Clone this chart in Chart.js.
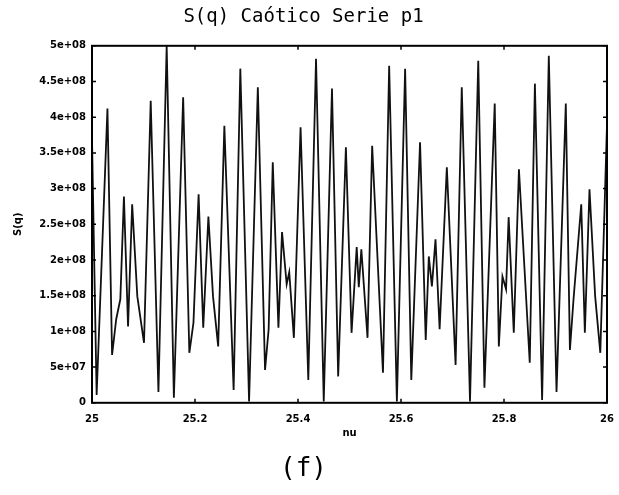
<!DOCTYPE html>
<html>
<head>
<meta charset="utf-8">
<script src="https://cdn.jsdelivr.net/npm/chart.js@4/dist/chart.umd.min.js"></script>
<style>
  html, body { margin: 0; padding: 0; background: #fff; }
  #wrap { width: 619px; height: 495px; position: relative; }
</style>
</head>
<body>
<div id="wrap"><canvas id="chart"></canvas></div>
<script>
// series (q, S(q))
const qValues = [
  25.000, 25.009, 25.030, 25.039, 25.047, 25.055, 25.062, 25.070, 25.078, 25.088,
  25.101, 25.114, 25.129, 25.145, 25.159, 25.177, 25.189, 25.197, 25.207, 25.216,
  25.226, 25.235, 25.245, 25.257, 25.275, 25.288, 25.305, 25.322, 25.336, 25.343,
  25.351, 25.362, 25.369, 25.378, 25.383, 25.392, 25.405, 25.420, 25.435, 25.450,
  25.466, 25.478, 25.493, 25.504, 25.514, 25.518, 25.523, 25.535, 25.544, 25.565,
  25.577, 25.592, 25.608, 25.620, 25.637, 25.648, 25.654, 25.660, 25.667, 25.675,
  25.689, 25.706, 25.718, 25.734, 25.750, 25.762, 25.782, 25.790, 25.797, 25.804,
  25.809, 25.819, 25.829, 25.850, 25.860, 25.874, 25.887, 25.902, 25.920, 25.928,
  25.935, 25.950, 25.957, 25.966, 25.977, 25.987, 26.000
];
const sValues = [
  3.70e8, 0.11e8, 4.12e8, 0.67e8, 1.17e8, 1.45e8, 2.89e8, 1.07e8, 2.78e8, 1.49e8,
  0.84e8, 4.23e8, 0.15e8, 5.00e8, 0.07e8, 4.28e8, 0.70e8, 1.12e8, 2.92e8, 1.05e8,
  2.61e8, 1.49e8, 0.79e8, 3.88e8, 0.18e8, 4.68e8, 0.02e8, 4.42e8, 0.46e8, 1.03e8,
  3.37e8, 1.05e8, 2.39e8, 1.66e8, 1.83e8, 0.91e8, 3.86e8, 0.32e8, 4.82e8, 0.02e8,
  4.40e8, 0.37e8, 3.58e8, 0.98e8, 2.18e8, 1.62e8, 2.15e8, 0.91e8, 3.60e8, 0.42e8,
  4.72e8, 0.02e8, 4.68e8, 0.32e8, 3.65e8, 0.88e8, 2.05e8, 1.63e8, 2.29e8, 1.03e8,
  3.30e8, 0.53e8, 4.42e8, 0.02e8, 4.79e8, 0.21e8, 4.19e8, 0.79e8, 1.77e8, 1.59e8,
  2.60e8, 0.98e8, 3.27e8, 0.56e8, 4.47e8, 0.04e8, 4.86e8, 0.15e8, 4.19e8, 0.74e8,
  1.45e8, 2.78e8, 0.98e8, 2.99e8, 1.49e8, 0.70e8, 3.90e8
];

const xTickLabels = ['25', '25.2', '25.4', '25.6', '25.8', '26'];
const yTickLabels = ['0', '5e+07', '1e+08', '1.5e+08', '2e+08', '2.5e+08',
                     '3e+08', '3.5e+08', '4e+08', '4.5e+08', '5e+08'];

const tickFont = { family: 'DejaVu Sans', size: 10, weight: 'bold' };

// black frame round the plot with small inward ticks
const framePlugin = {
  id: 'frame',
  afterDraw(chart) {
    const { ctx, chartArea: a, scales } = chart;
    ctx.save();
    ctx.strokeStyle = '#000';
    ctx.lineWidth = 2;
    ctx.strokeRect(a.left, a.top, a.right - a.left, a.bottom - a.top);
    ctx.lineWidth = 1.5;
    ctx.beginPath();
    scales.x.ticks.forEach(t => {
      const px = scales.x.getPixelForValue(t.value);
      ctx.moveTo(px, a.bottom); ctx.lineTo(px, a.bottom - 4);
      ctx.moveTo(px, a.top); ctx.lineTo(px, a.top + 4);
    });
    scales.y.ticks.forEach(t => {
      const py = scales.y.getPixelForValue(t.value);
      ctx.moveTo(a.left, py); ctx.lineTo(a.left + 4, py);
      ctx.moveTo(a.right, py); ctx.lineTo(a.right - 4, py);
    });
    ctx.stroke();
    ctx.restore();
  }
};

new Chart(document.getElementById('chart'), {
  type: 'line',
  data: {
    datasets: [{
      data: qValues.map((q, i) => ({ x: q, y: sValues[i] })),
      borderColor: '#111',
      borderWidth: 1.8,
      pointRadius: 0,
      tension: 0,
      fill: false
    }]
  },
  options: {
    responsive: true,
    maintainAspectRatio: false,
    animation: false,
    layout: { padding: { left: 0, right: 12, top: 0, bottom: 0 } },
    plugins: {
      legend: { display: false },
      tooltip: { enabled: false },
      title: {
        display: true,
        text: 'S(q) Caótico Serie p1',
        color: '#000',
        font: { family: 'DejaVu Sans Mono', size: 19, weight: 'normal' },
        padding: { top: 6, bottom: 17 }
      },
      subtitle: {
        display: true,
        position: 'bottom',
        text: '(f)',
        color: '#000',
        font: { family: 'DejaVu Sans Mono', size: 26 },
        padding: { top: 0, bottom: 10 }
      }
    },
    scales: {
      x: {
        type: 'linear',
        min: 25,
        max: 26,
        grid: { display: false, drawTicks: false },
        border: { display: false },
        ticks: {
          stepSize: 0.2,
          padding: 11,
          color: '#000',
          font: tickFont,
          maxRotation: 0,
          callback: (v, i) => xTickLabels[i]
        },
        title: {
          display: true,
          text: 'nu',
          color: '#000',
          font: tickFont,
          padding: { top: 2, bottom: 14 }
        },
        afterFit: (s) => { s.height = 51; s.paddingLeft = 0; s.paddingRight = 0; }
      },
      y: {
        min: 0,
        max: 5e8,
        grid: { display: false, drawTicks: false },
        border: { display: false },
        ticks: {
          stepSize: 5e7,
          padding: 6,
          color: '#000',
          font: tickFont,
          callback: (v, i) => yTickLabels[i]
        },
        title: {
          display: true,
          text: 'S(q)',
          color: '#000',
          font: tickFont,
          padding: { top: 12, bottom: 0 }
        },
        afterFit: (s) => { s.width = 92; }
      }
    }
  },
  plugins: [framePlugin]
});
</script>
</body>
</html>
